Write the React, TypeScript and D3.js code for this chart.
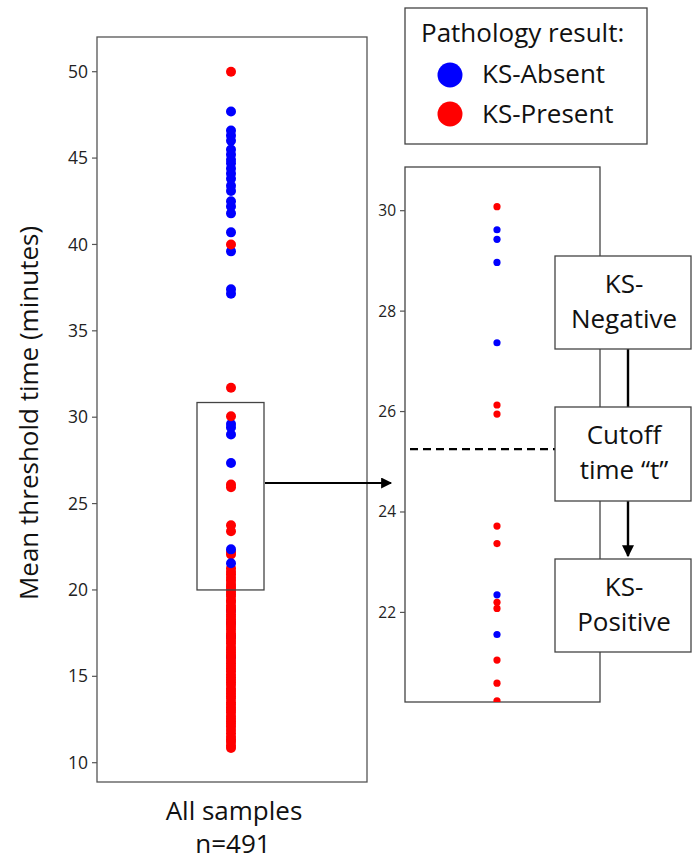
import React from 'react';
import * as d3 from 'd3';

const allAbsent = [
  47.7, 46.6, 46.3, 46.0, 45.5, 45.2, 44.9, 44.7, 44.4, 44.1, 43.8, 43.4, 43.1,
  42.5, 42.2, 41.8, 40.7, 39.6, 37.4, 37.15, 29.6, 29.4, 29.0, 27.35, 22.35,
  21.55, 18.8, 18.1, 17.3, 16.1,
];
const allPresent = [
  50.0, 40.0, 31.7, 30.06, 26.1, 25.95, 23.75, 23.4, 22.2, 22.05, 21.25, 21.05,
  20.9, 20.7, 20.55, 20.35, 20.2, 20.05, 19.9, 19.75, 19.6, 19.4, 19.3, 19.1,
  18.95, 18.8, 18.6, 18.45, 18.3, 18.15, 18.0, 17.85, 17.7, 17.5, 17.35, 17.2,
  17.05, 16.9, 16.7, 16.55, 16.4, 16.25, 16.1, 15.9, 15.75, 15.6, 15.45, 15.3,
  15.1, 14.95, 14.8, 14.65, 14.5, 14.3, 14.15, 14.0, 13.85, 13.7, 13.5, 13.35,
  13.2, 13.05, 12.9, 12.7, 12.55, 12.4, 12.25, 12.1, 11.9, 11.7, 11.5, 11.35,
  11.2, 11.0, 10.85,
];
const leftTicks = [10, 15, 20, 25, 30, 35, 40, 45, 50];

// Right panel: zoomed window
const zoomAbsent = [29.62, 29.43, 28.97, 27.37, 22.35, 21.56];
const zoomPresent = [30.08, 26.13, 25.95, 23.72, 23.37, 22.2, 22.08, 21.05, 20.59, 20.24];
const rightTicks = [22, 24, 26, 28, 30];
const cutoff = 25.25;
const zoomWindow = [20.0, 30.85];

const BLUE = '#0000ff';
const RED = '#ff0000';
const FONT = '"Open Sans", sans-serif';
const BIG = 26;

export default function App() {
  const width = 692;
  const height = 861;

  // left frame
  const L = { x0: 97, x1: 367, y0: 37, y1: 782, cx: 231 };
  const yL = d3.scaleLinear().domain([10, 50]).range([762.7, 71.7]);

  // right frame
  const R = { x0: 405, x1: 600, y0: 167, y1: 702, cx: 497 };
  const yR = d3.scaleLinear().domain([20.21, 30.87]).range([702.3, 167]);

  const absentTop = allAbsent.filter((v) => v > 21 && v < 23);
  const absentBelow = allAbsent.filter((v) => !(v > 21 && v < 23));

  const boxX0 = 555;
  const boxX1 = 691;
  const flowBoxes = [
    { y0: 256, y1: 349, lines: ['KS-', 'Negative'] },
    { y0: 407, y1: 501, lines: ['Cutoff', 'time \u201Ct\u201D'] },
    { y0: 559, y1: 652, lines: ['KS-', 'Positive'] },
  ];

  const arrowY = 483;

  return (
    <svg
      width={width}
      height={height}
      style={{ position: 'absolute', left: 0, top: 0, background: '#fff' }}
      fontFamily={FONT}
    >
      <defs>
        <marker id="head" viewBox="0 0 10 10" refX="9" refY="5" markerWidth="5.5" markerHeight="5" orient="auto">
          <path d="M0,0 L10,5 L0,10 z" fill="#000" />
        </marker>
        <clipPath id="rclip">
          <rect x={R.x0} y={R.y0} width={R.x1 - R.x0} height={R.y1 - R.y0} />
        </clipPath>
      </defs>

      {/* Left panel */}
      <rect x={L.x0} y={L.y0} width={L.x1 - L.x0} height={L.y1 - L.y0} fill="none" stroke="#555" strokeWidth={1.3} />
      {leftTicks.map((t) => (
        <g key={t}>
          <line x1={L.x0 - 5} x2={L.x0} y1={yL(t)} y2={yL(t)} stroke="#555" strokeWidth={1.2} />
          <text x={L.x0 - 9} y={yL(t)} dy="0.35em" textAnchor="end" fontSize={17.5} fill="#222">
            {t}
          </text>
        </g>
      ))}
      {absentBelow.map((v, i) => (
        <circle key={'ab' + i} cx={L.cx} cy={yL(v)} r={5} fill={BLUE} />
      ))}
      {allPresent.map((v, i) => (
        <circle key={'p' + i} cx={L.cx} cy={yL(v)} r={5} fill={RED} />
      ))}
      {absentTop.map((v, i) => (
        <circle key={'at' + i} cx={L.cx} cy={yL(v)} r={5} fill={BLUE} />
      ))}
      {/* window box */}
      <rect
        x={197}
        y={yL(zoomWindow[1])}
        width={67}
        height={yL(zoomWindow[0]) - yL(zoomWindow[1])}
        fill="none"
        stroke="#444"
        strokeWidth={1.3}
      />
      <line x1={265} x2={391} y1={arrowY} y2={arrowY} stroke="#000" strokeWidth={2.2} markerEnd="url(#head)" />

      <text transform={`translate(38,413) rotate(-90)`} textAnchor="middle" fontSize={BIG} fill="#111">
        Mean threshold time (minutes)
      </text>
      <text x={234} y={820} textAnchor="middle" fontSize={BIG} fill="#111">
        All samples
      </text>
      <text x={233} y={853} textAnchor="middle" fontSize={BIG} fill="#111">
        n=491
      </text>

      {/* Right panel */}
      <rect x={R.x0} y={R.y0} width={R.x1 - R.x0} height={R.y1 - R.y0} fill="none" stroke="#444" strokeWidth={1.3} />
      {rightTicks.map((t) => (
        <g key={t}>
          <line x1={R.x0 - 5} x2={R.x0} y1={yR(t)} y2={yR(t)} stroke="#555" strokeWidth={1.2} />
          <text x={R.x0 - 9} y={yR(t)} dy="0.35em" textAnchor="end" fontSize={15.5} fill="#222">
            {t}
          </text>
        </g>
      ))}
      <g clipPath="url(#rclip)">
        {zoomAbsent.map((v, i) => (
          <circle key={'za' + i} cx={R.cx} cy={yR(v)} r={3.6} fill={BLUE} />
        ))}
        {zoomPresent.map((v, i) => (
          <circle key={'zp' + i} cx={R.cx} cy={yR(v)} r={3.6} fill={RED} />
        ))}
      </g>
      <line x1={410} x2={boxX0} y1={yR(cutoff)} y2={yR(cutoff)} stroke="#000" strokeWidth={2.2} strokeDasharray="8,5" />

      {/* Flow chart */}
      <line x1={628} x2={628} y1={349} y2={407} stroke="#000" strokeWidth={2.4} />
      <line x1={628} x2={628} y1={501} y2={556} stroke="#000" strokeWidth={2.4} markerEnd="url(#head)" />
      {flowBoxes.map((b, i) => (
        <g key={i}>
          <rect x={boxX0} y={b.y0} width={boxX1 - boxX0} height={b.y1 - b.y0} fill="#fff" stroke="#444" strokeWidth={1.3} />
          {b.lines.map((s, j) => (
            <text
              key={j}
              x={(boxX0 + boxX1) / 2 + 1}
              y={b.y0 + 37 + j * 35}
              textAnchor="middle"
              fontSize={BIG}
              fill="#111"
            >
              {s}
            </text>
          ))}
        </g>
      ))}

      {/* Legend */}
      <rect x={405} y={8} width={242} height={136} fill="#fff" stroke="#444" strokeWidth={1.3} />
      <text x={421} y={42} fontSize={BIG} fill="#111">
        Pathology result:
      </text>
      <circle cx={450} cy={75} r={12.5} fill={BLUE} />
      <text x={482} y={83} fontSize={BIG} fill="#111">
        KS-Absent
      </text>
      <circle cx={450} cy={114} r={12.5} fill={RED} />
      <text x={482} y={123} fontSize={BIG} fill="#111">
        KS-Present
      </text>
    </svg>
  );
}
